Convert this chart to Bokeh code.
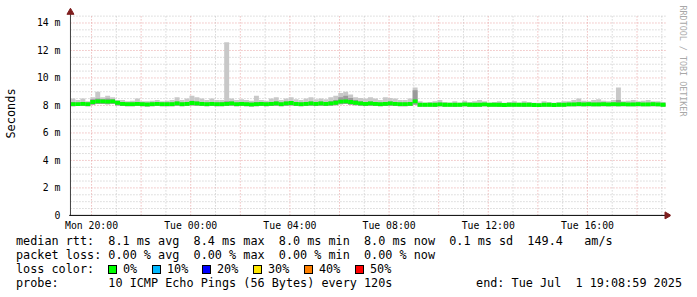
import numpy as np
from bokeh.plotting import figure
from bokeh.layouts import column
from bokeh.models import FixedTicker, Range1d, Title, Div
from bokeh.embed import file_html
from bokeh.resources import INLINE

# ---------------- data ----------------
T0 = 19.15          # window start, hours since Mon 00:00 (Mon 19:09)
SPAN = 24.0         # hours shown
STEP = 0.2          # hours per consolidated sample

x_tick_hours = [20, 24, 28, 32, 36, 40]
x_tick_labels = ["Mon 20:00", "Tue 00:00", "Tue 04:00", "Tue 08:00", "Tue 12:00", "Tue 16:00"]
y_ticks = [0, 2, 4, 6, 8, 10, 12, 14]
y_tick_labels = ["0", "2 m", "4 m", "6 m", "8 m", "10 m", "12 m", "14 m"]

median_ms = [
    8.10, 8.10, 8.12, 8.10, 8.25, 8.30, 8.30, 8.28, 8.30, 8.20,
    8.12, 8.10, 8.10, 8.12, 8.10, 8.08, 8.10, 8.12, 8.10, 8.10,
    8.10, 8.15, 8.10, 8.12, 8.18, 8.15, 8.12, 8.10, 8.12, 8.10,
    8.10, 8.12, 8.15, 8.10, 8.12, 8.10, 8.08, 8.10, 8.12, 8.10,
    8.12, 8.15, 8.10, 8.15, 8.18, 8.12, 8.10, 8.12, 8.15, 8.12,
    8.15, 8.12, 8.15, 8.20, 8.28, 8.30, 8.25, 8.20, 8.15, 8.12,
    8.15, 8.12, 8.10, 8.12, 8.15, 8.12, 8.10, 8.10, 8.12, 8.30,
    8.05, 8.05, 8.05, 8.05, 8.08, 8.05, 8.05, 8.05, 8.05, 8.08,
    8.05, 8.05, 8.05, 8.08, 8.05, 8.05, 8.05, 8.03, 8.05, 8.05,
    8.05, 8.05, 8.05, 8.03, 8.02, 8.05, 8.05, 8.03, 8.05, 8.05,
    8.08, 8.08, 8.10, 8.08, 8.10, 8.08, 8.08, 8.10, 8.08, 8.10,
    8.08, 8.10, 8.08, 8.08, 8.10, 8.08, 8.08, 8.10, 8.08, 8.05,
]
smoke_max_ms = [
    8.50, 8.40, 8.50, 8.30, 8.60, 9.00, 8.60, 8.70, 8.60, 8.40,
    8.40, 8.30, 8.35, 8.50, 8.30, 8.30, 8.35, 8.40, 8.30, 8.35,
    8.40, 8.60, 8.40, 8.50, 8.70, 8.60, 8.50, 8.40, 8.50, 8.40,
    8.40, 12.60, 8.50, 8.40, 8.45, 8.40, 8.35, 8.70, 8.40, 8.35,
    8.50, 8.60, 8.40, 8.50, 8.60, 8.45, 8.40, 8.50, 8.60, 8.45,
    8.50, 8.45, 8.60, 8.70, 8.90, 9.00, 8.80, 8.60, 8.55, 8.50,
    8.60, 8.50, 8.40, 8.60, 8.55, 8.50, 8.40, 8.40, 8.50, 9.30,
    8.30, 8.20, 8.25, 8.30, 8.40, 8.25, 8.20, 8.30, 8.20, 8.35,
    8.25, 8.30, 8.40, 8.30, 8.20, 8.25, 8.30, 8.20, 8.25, 8.30,
    8.20, 8.30, 8.25, 8.20, 8.20, 8.30, 8.25, 8.20, 8.25, 8.30,
    8.30, 8.40, 8.50, 8.35, 8.30, 8.40, 8.45, 8.35, 8.30, 8.40,
    9.30, 8.30, 8.35, 8.40, 8.30, 8.35, 8.40, 8.30, 8.30, 8.25,
]
smoke_mid_ms = [
    8.25, 8.20, 8.25, 8.20, 8.45, 8.50, 8.45, 8.50, 8.45, 8.30,
    8.22, 8.20, 8.20, 8.25, 8.20, 8.18, 8.20, 8.22, 8.20, 8.20,
    8.22, 8.28, 8.20, 8.25, 8.35, 8.28, 8.25, 8.20, 8.25, 8.20,
    8.22, 8.30, 8.28, 8.20, 8.22, 8.20, 8.18, 8.25, 8.22, 8.20,
    8.25, 8.28, 8.20, 8.28, 8.30, 8.25, 8.20, 8.25, 8.28, 8.22,
    8.28, 8.25, 8.30, 8.40, 8.60, 8.70, 8.55, 8.40, 8.30, 8.25,
    8.28, 8.25, 8.20, 8.25, 8.28, 8.22, 8.20, 8.20, 8.25, 9.10,
    8.15, 8.12, 8.15, 8.15, 8.20, 8.15, 8.12, 8.15, 8.12, 8.18,
    8.15, 8.15, 8.18, 8.18, 8.12, 8.15, 8.15, 8.12, 8.15, 8.15,
    8.12, 8.15, 8.15, 8.12, 8.12, 8.15, 8.15, 8.12, 8.15, 8.18,
    8.18, 8.20, 8.22, 8.20, 8.20, 8.20, 8.22, 8.20, 8.18, 8.20,
    8.40, 8.20, 8.18, 8.20, 8.20, 8.18, 8.20, 8.20, 8.18, 8.15,
]
smoke_min_ms = [
    7.95, 7.96, 7.97, 7.95, 8.05, 8.10, 8.10, 8.08, 8.10, 8.00,
    7.96, 7.95, 7.94, 7.96, 7.95, 7.93, 7.95, 7.96, 7.95, 7.94,
    7.95, 7.98, 7.95, 7.96, 8.00, 7.98, 7.96, 7.95, 7.96, 7.94,
    7.95, 7.96, 7.98, 7.95, 7.96, 7.95, 7.92, 7.95, 7.96, 7.95,
    7.96, 7.98, 7.94, 7.98, 8.00, 7.96, 7.95, 7.96, 7.98, 7.96,
    7.98, 7.96, 7.98, 8.02, 8.08, 8.10, 8.06, 8.02, 7.98, 7.96,
    7.98, 7.96, 7.95, 7.96, 7.98, 7.96, 7.95, 7.94, 7.96, 8.05,
    7.92, 7.92, 7.92, 7.91, 7.94, 7.92, 7.92, 7.91, 7.92, 7.94,
    7.92, 7.91, 7.92, 7.94, 7.92, 7.92, 7.91, 7.90, 7.92, 7.92,
    7.92, 7.91, 7.92, 7.90, 7.89, 7.92, 7.92, 7.90, 7.92, 7.92,
    7.94, 7.94, 7.95, 7.94, 7.95, 7.94, 7.94, 7.95, 7.94, 7.95,
    7.94, 7.95, 7.94, 7.94, 7.95, 7.94, 7.94, 7.95, 7.94, 7.92,
]
loss_pct = [0.0] * len(median_ms)

loss_levels = [0, 10, 20, 30, 40, 50]
loss_names = ["0%", "10%", "20%", "30%", "40%", "50%"]
loss_colors = ["#00ff00", "#00b8ff", "#0000ff", "#ffe600", "#ff8000", "#ff0000"]

legend_rtt = "median rtt:  8.1 ms avg  8.4 ms max  8.0 ms min  8.0 ms now  0.1 ms sd  149.4   am/s"
legend_loss = "packet loss: 0.00 % avg  0.00 % max  0.00 % min  0.00 % now"
legend_color_title = "loss color:"
legend_probe = "probe:       10 ICMP Echo Pings (56 Bytes) every 120s"
legend_end = "end: Tue Jul  1 19:08:59 2025"
watermark = "RRDTOOL / TOBI OETIKER"

# ---------------- main chart ----------------
MONO = "DejaVu Sans Mono"
PX_H = 25.0          # px per hour
PX_MS = 13.75        # px per ms
TOP_H = 234          # height of main figure
FRAME_TOP = 7
FRAME_BOTTOM_PX = 219.1
y_lo = -(FRAME_BOTTOM_PX - 215) / PX_MS
y_hi = (215 - FRAME_TOP) / PX_MS
GRID_TOP = 14.62

p = figure(width=697, height=TOP_H, output_backend="svg", toolbar_location=None,
           x_range=Range1d(T0 - 5 / PX_H, T0 + SPAN + 5 / PX_H),
           y_range=Range1d(y_lo, y_hi),
           min_border_left=62, min_border_right=25, min_border_top=FRAME_TOP,
           min_border_bottom=int(round(TOP_H - FRAME_BOTTOM_PX)))
p.outline_line_color = None
p.background_fill_color = "white"
p.border_fill_color = "white"
p.xgrid.visible = False
p.ygrid.visible = False

# grid lines (rrdtool style: dotted gray minor, dotted pink major)
x_minor = list(range(21, 44, 2))
x_major = list(range(20, 44, 2))
y_minor = [v for v in np.arange(0.5, 14.6, 0.5) if v % 2 != 0]
y_major = y_ticks[1:]
p.segment(x0=x_minor, y0=0, x1=x_minor, y1=GRID_TOP, line_color="#c4c4c4", line_dash="1 2", line_width=1)
p.segment(x0=T0, y0=y_minor, x1=T0 + SPAN, y1=y_minor, line_color="#c4c4c4", line_dash="1 2", line_width=1)
p.segment(x0=x_major, y0=0, x1=x_major, y1=GRID_TOP, line_color="#e8a0a0", line_dash="1 2", line_width=1)
p.segment(x0=T0, y0=y_major, x1=T0 + SPAN, y1=y_major, line_color="#e8a0a0", line_dash="1 2", line_width=1)

n = len(median_ms)
lefts = T0 + STEP * np.arange(n)
rights = lefts + STEP
med = np.array(median_ms)

def loss_color(v):
    idx = 0
    for k, lv in enumerate(loss_levels):
        if v >= lv:
            idx = k
    return loss_colors[idx]

p.quad(left=lefts, right=rights, bottom=smoke_min_ms, top=smoke_max_ms,
       fill_color="#c8c8c8", line_color=None)
p.quad(left=lefts, right=rights, bottom=smoke_min_ms, top=smoke_mid_ms,
       fill_color="#9a9a9a", line_color=None)
p.quad(left=lefts, right=rights, bottom=med - 0.14, top=med + 0.14,
       fill_color=[loss_color(v) for v in loss_pct], line_color=None)

# axis lines with arrows
p.segment(x0=[T0], y0=[0], x1=[T0], y1=[14.9], line_color="#404040", line_width=1)
p.segment(x0=[T0 - 0.05], y0=[0], x1=[T0 + SPAN + 0.05], y1=[0], line_color="black", line_width=1)
p.scatter(x=[T0], y=[14.78], marker="triangle", size=7, fill_color="#7f1f1f", line_color="#7f1f1f")
p.scatter(x=[T0 + SPAN + 0.06], y=[0], marker="triangle", angle=-np.pi / 2, size=7,
          fill_color="#7f1f1f", line_color="#7f1f1f")

# axes (labels only)
p.xaxis.ticker = FixedTicker(ticks=x_tick_hours)
p.xaxis.major_label_overrides = dict(zip(x_tick_hours, x_tick_labels))
p.yaxis.ticker = FixedTicker(ticks=y_ticks)
p.yaxis.major_label_overrides = dict(zip(y_ticks, y_tick_labels))
for ax in (p.xaxis, p.yaxis):
    ax.major_label_text_font = MONO
    ax.major_label_text_font_size = "9.8px"
    ax.major_label_text_color = "black"
    ax.minor_tick_line_color = None
    ax.major_tick_line_color = None
    ax.major_tick_in = 0
    ax.major_tick_out = 0
    ax.axis_line_color = None
p.xaxis.major_label_standoff = 0
p.yaxis.major_label_standoff = 5
p.yaxis.axis_label = "Seconds"
p.yaxis.axis_label_text_font = MONO
p.yaxis.axis_label_text_font_size = "11.9px"
p.yaxis.axis_label_text_font_style = "normal"
p.yaxis.axis_label_text_color = "black"
p.yaxis.axis_label_standoff = 16

p.add_layout(Title(text=watermark, align="left", text_font=MONO, text_font_size="8.4px",
                   text_color="#a8a8a8", text_font_style="normal", offset=-2, standoff=15), "right")

# ---------------- legend block (HTML, monospace like rrdtool) ----------------
LEG_H = 297 - TOP_H
FONT_CSS = "font-family:'DejaVu Sans Mono',monospace;font-size:11.8px;line-height:14px;color:#000;white-space:pre;"

def text_at(txt, left=None, top=0, right=None):
    pos = f"left:{left}px;" if left is not None else f"right:{right}px;"
    return f'<div style="position:absolute;{pos}top:{top}px;{FONT_CSS}">{txt}</div>'

parts = [
    text_at(legend_rtt, left=16, top=0),
    text_at(legend_loss, left=16, top=14),
    text_at(legend_color_title, left=16, top=28),
    text_at(legend_probe, left=16, top=42),
    text_at(legend_end, right=15, top=42),
]
box_x = [108, 152, 202, 253, 304, 355]
for bx, name, col in zip(box_x, loss_names, loss_colors):
    parts.append(f'<div style="position:absolute;left:{bx}px;top:31px;width:9px;height:9px;'
                 f'box-sizing:border-box;border:1px solid #000;background:{col};"></div>')
    parts.append(text_at(name, left=bx + 15, top=28))

html = (f'<div style="position:relative;width:697px;height:{LEG_H}px;background:#fff;margin:0;padding:0;">'
        + "".join(parts) + '</div>')
legend_div = Div(text=html, width=697, height=LEG_H, margin=0)

layout = column(p, legend_div, spacing=0)
open("out.html", "w").write(file_html(layout, INLINE))
